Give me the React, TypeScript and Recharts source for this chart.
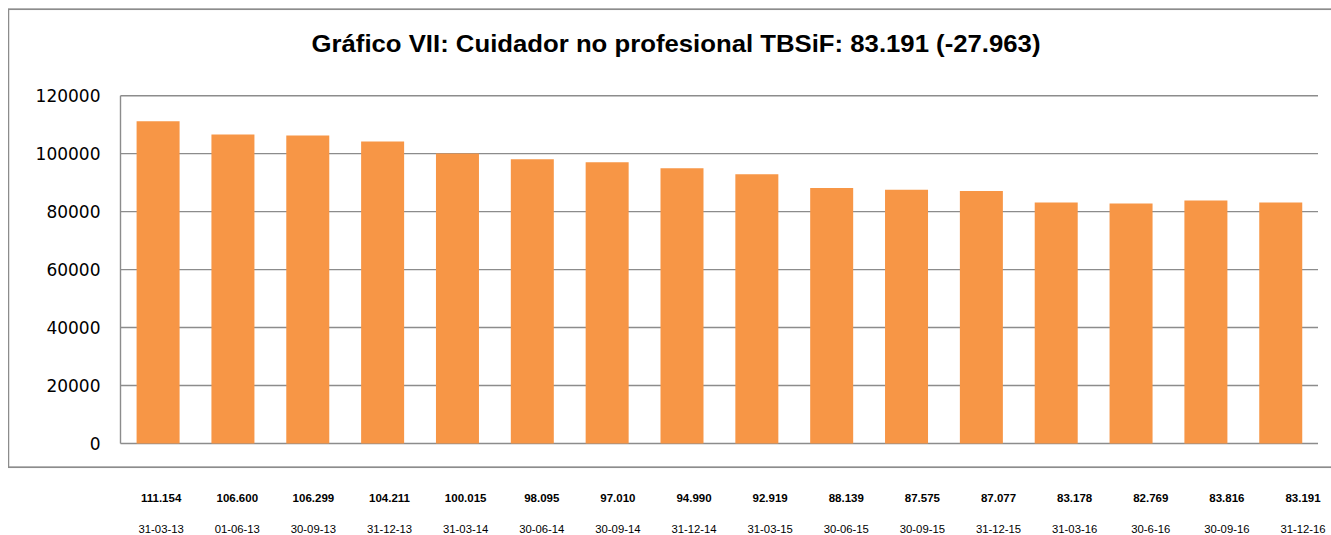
import React from "react";
import { BarChart, Bar, XAxis, YAxis, CartesianGrid } from "recharts";

const dates = [
  "31-03-13", "01-06-13", "30-09-13", "31-12-13",
  "31-03-14", "30-06-14", "30-09-14", "31-12-14",
  "31-03-15", "30-06-15", "30-09-15", "31-12-15",
  "31-03-16", "30-6-16", "30-09-16", "31-12-16",
];
const values = [
  111154, 106600, 106299, 104211,
  100015, 98095, 97010, 94990,
  92919, 88139, 87575, 87077,
  83178, 82769, 83816, 83191,
];
const valueLabels = [
  "111.154", "106.600", "106.299", "104.211",
  "100.015", "98.095", "97.010", "94.990",
  "92.919", "88.139", "87.575", "87.077",
  "83.178", "82.769", "83.816", "83.191",
];
const yTicks = [0, 20000, 40000, 60000, 80000, 100000, 120000];
const title = "Gráfico VII: Cuidador no profesional TBSiF: 83.191 (-27.963)";

const data = dates.map((d, i) => ({ date: d, value: values[i], label: valueLabels[i] }));

const GRID = "#8c8c8c";

export default function App() {
  return (
    <div
      style={{
        position: "absolute",
        left: 8,
        top: 8,
        width: 1323,
        height: 527,
        overflow: "hidden",
        background: "#fff",
      }}
    >
      <div style={{ position: "absolute", left: 0, top: 0 }}>
        <BarChart
          width={1323}
          height={460}
          data={data}
          margin={{ top: 87.7, right: 13, bottom: 24.5, left: 0 }}
          barCategoryGap="21.5%"
        >
          <CartesianGrid vertical={false} stroke={GRID} strokeWidth={1.4} />
          <XAxis dataKey="date" hide />
          <YAxis
            width={112.5}
            domain={[0, 120000]}
            ticks={yTicks}
            interval={0}
            tickLine={false}
            tickSize={0}
            tickMargin={20}
            axisLine={{ stroke: GRID, strokeWidth: 1.4 }}
            tick={{ fill: "#000", fontSize: 17, fontFamily: "DejaVu Sans" }}
          />
          <Bar dataKey="value" fill="#F79646" isAnimationActive={false} />
        </BarChart>
      </div>
      <svg
        width={1323}
        height={470}
        style={{ position: "absolute", left: 0, top: 0, pointerEvents: "none" }}
      >
        <rect x={0.4} y={1.2} width={1340} height={458} fill="none" stroke={GRID} strokeWidth={1.7} />
        <text
          x={668}
          y={44.3}
          textAnchor="middle"
          fontFamily="Liberation Sans"
          fontWeight="bold"
          fontSize={24.5}
          textLength={729}
          lengthAdjust="spacingAndGlyphs"
          fill="#000"
        >
          {title}
        </text>
      </svg>
      <div
        style={{
          position: "absolute",
          left: 115.1,
          top: 483.3,
          display: "flex",
          fontFamily: "Liberation Sans",
          fontWeight: "bold",
          fontSize: 11.5,
          lineHeight: "14px",
          color: "#000",
        }}
      >
        {data.map((d) => (
          <div key={d.date} style={{ width: 76.13, textAlign: "center", flex: "none" }}>
            {d.label}
          </div>
        ))}
      </div>
      <div
        style={{
          position: "absolute",
          left: 115.1,
          top: 514,
          display: "flex",
          fontFamily: "Liberation Sans",
          fontSize: 11.3,
          lineHeight: "14px",
          color: "#000",
        }}
      >
        {data.map((d) => (
          <div key={d.date} style={{ width: 76.13, textAlign: "center", flex: "none" }}>
            {d.date}
          </div>
        ))}
      </div>
    </div>
  );
}
